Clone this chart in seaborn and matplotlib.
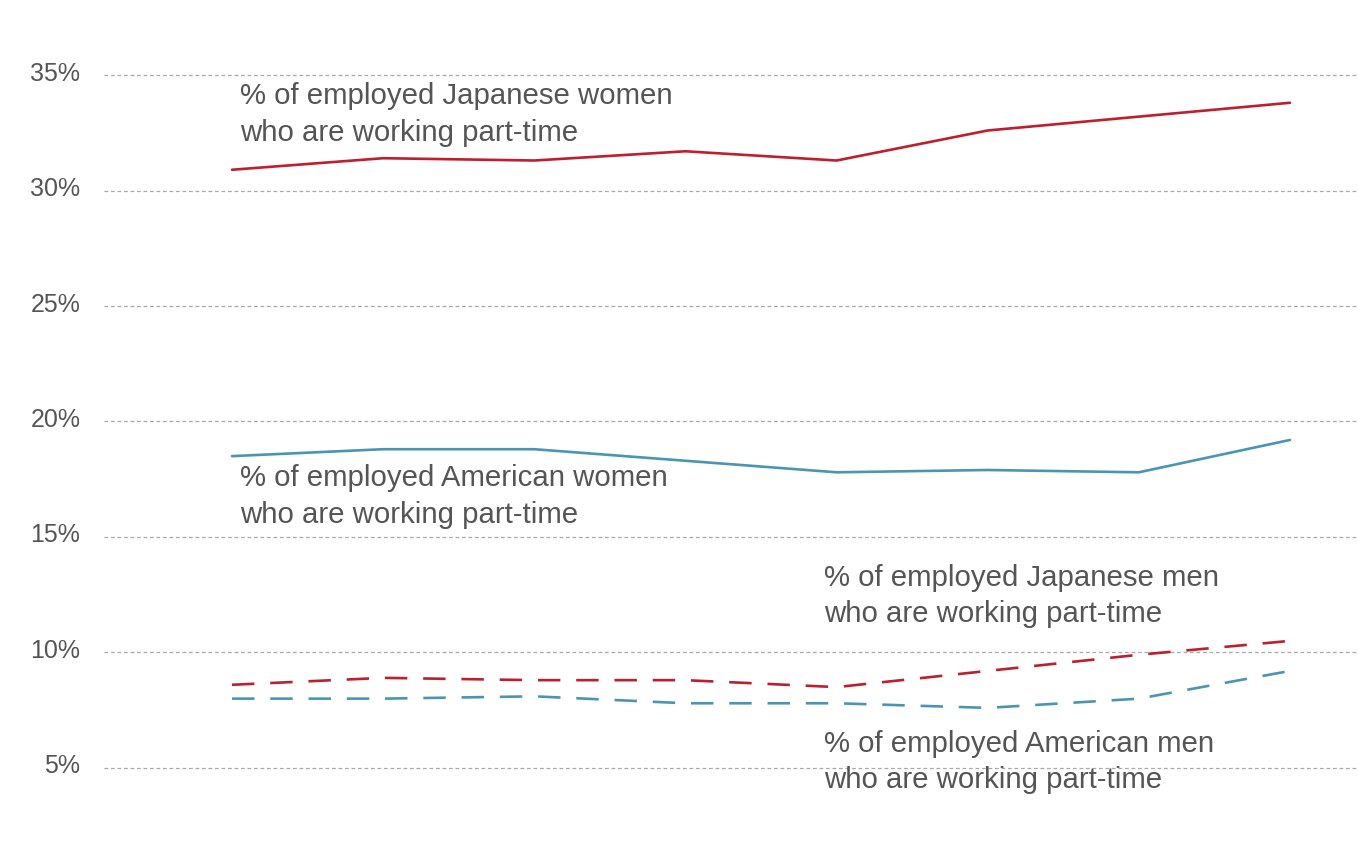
import matplotlib
matplotlib.use("Agg")
import matplotlib.pyplot as plt
import matplotlib.transforms as mtransforms
import seaborn as sns
import pandas as pd

# Share of employed people working part-time, by country and sex (%)
years = [2007, 2008, 2009, 2010, 2011, 2012, 2013, 2014]
japanese_women = [30.9, 31.4, 31.3, 31.7, 31.3, 32.6, 33.2, 33.8]
american_women = [18.5, 18.8, 18.8, 18.3, 17.8, 17.9, 17.8, 19.2]
japanese_men = [8.6, 8.9, 8.8, 8.8, 8.5, 9.2, 9.9, 10.5]
american_men = [8.0, 8.0, 8.1, 7.8, 7.8, 7.6, 8.0, 9.2]

series_names = ["Japanese women", "American women", "Japanese men", "American men"]
series_values = [japanese_women, american_women, japanese_men, american_men]
series_country = ["Japan", "US", "Japan", "US"]
series_sex = ["women", "women", "men", "men"]

y_ticks = [5, 10, 15, 20, 25, 30, 35]
y_tick_labels = ["5%", "10%", "15%", "20%", "25%", "30%", "35%"]

label_texts = [
    "% of employed Japanese women\nwho are working part-time",
    "% of employed American women\nwho are working part-time",
    "% of employed Japanese men\nwho are working part-time",
    "% of employed American men\nwho are working part-time",
]

rows = []
for name, vals, country, sex in zip(series_names, series_values, series_country, series_sex):
    for i, v in enumerate(vals):
        rows.append({"year": years[i], "idx": i, "value": v,
                     "series": name, "country": country, "sex": sex})
df = pd.DataFrame(rows)

sns.set_theme(style="white")
plt.rcParams["font.family"] = ["Liberation Sans", "DejaVu Sans"]

RED = "#bf1e2e"
BLUE = "#4a95b4"
TEXT = "#555555"

fig = plt.figure(figsize=(13.59, 8.55), dpi=100)
ax = fig.add_axes([104 / 1359, 0.0, 1 - 104 / 1359, 1.0])

sns.lineplot(
    data=df, x="idx", y="value", hue="country", style="sex",
    palette={"Japan": RED, "US": BLUE},
    dashes={"women": "", "men": (8.5, 6)},
    linewidth=1.9, legend=False, ax=ax, zorder=3,
)

ax.set_xlim(-0.847, 7.457)
ax.set_ylim(1.23, 38.25)
ax.set_yticks(y_ticks)
ax.set_yticklabels(y_tick_labels)
ax.set_xticks([])
ax.set_xlabel("")
ax.set_ylabel("")
for s in ax.spines.values():
    s.set_visible(False)

ax.yaxis.grid(True, color="#a8a8a8", linestyle=(0, (3, 2.2)), linewidth=0.9)
ax.set_axisbelow(True)
ax.tick_params(axis="y", length=0, pad=17, labelsize=18, labelcolor=TEXT)
# lift the tick labels a few pixels above their grid lines
lift = mtransforms.ScaledTranslation(0, 4 / 100, fig.dpi_scale_trans)
for lbl in ax.get_yticklabels():
    lbl.set_transform(lbl.get_transform() + lift)

# Series annotations: (x in category units, y in percent at block centre)
label_pos = [(0.053, 33.3), (0.053, 16.75), (3.918, 12.45), (3.918, 5.25)]
for txt, (x, y) in zip(label_texts, label_pos):
    ax.text(x, y, txt, ha="left", va="center", fontsize=21.2, color=TEXT,
            linespacing=1.38)

fig.savefig("out.png", dpi=100, facecolor="white")
